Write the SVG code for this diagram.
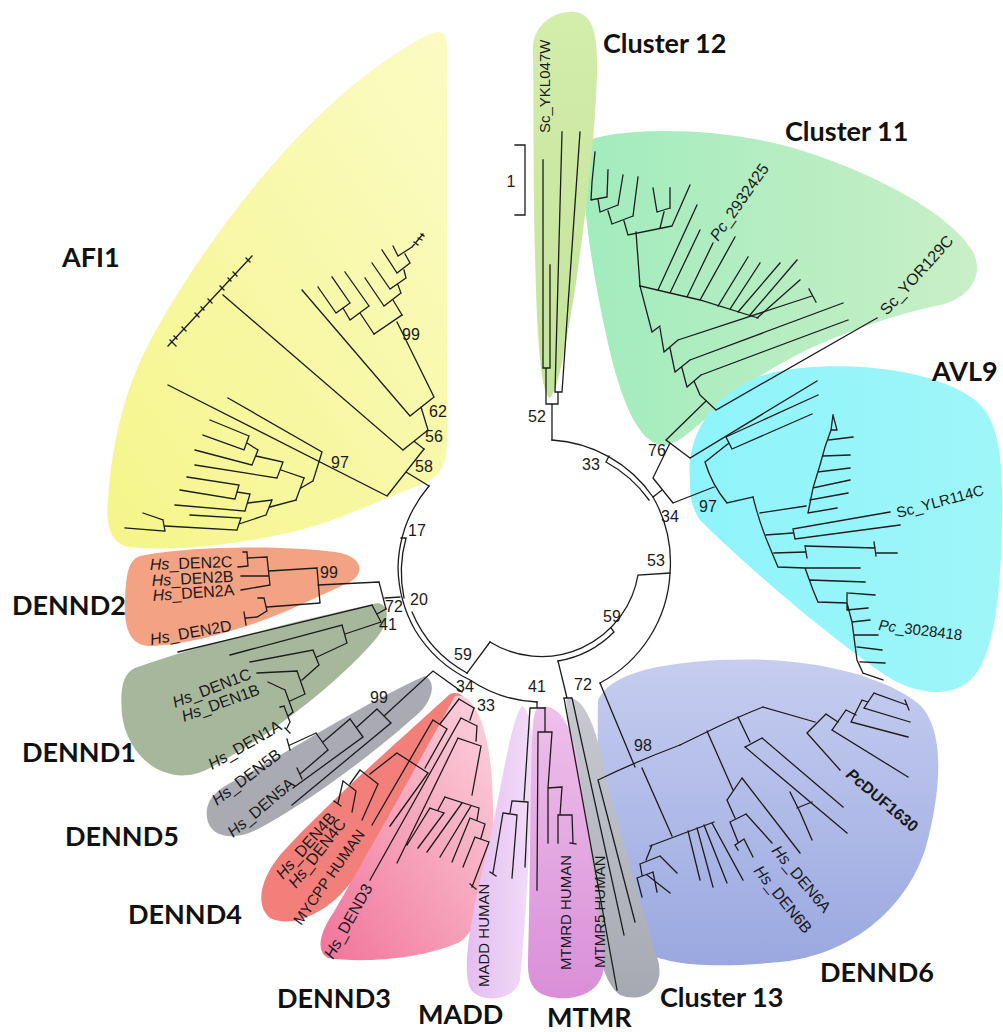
<svg xmlns="http://www.w3.org/2000/svg" width="1003" height="1032" viewBox="0 0 1003 1032">
<defs>
<linearGradient id="gAFI" x1="0" y1="1" x2="1" y2="0"><stop offset="0" stop-color="#f5f58a"/><stop offset="1" stop-color="#fbfbc4"/></linearGradient>
<linearGradient id="gC12" x1="0" y1="1" x2="0" y2="0"><stop offset="0" stop-color="#c3e39a"/><stop offset="1" stop-color="#d3edab"/></linearGradient>
<linearGradient id="gC11" x1="0" y1="0" x2="1" y2="0"><stop offset="0" stop-color="#a2ecbd"/><stop offset="1" stop-color="#c9efc6"/></linearGradient>
<linearGradient id="gAVL" x1="0" y1="0" x2="1" y2="0"><stop offset="0" stop-color="#8ef4fb"/><stop offset="1" stop-color="#9ff6f8"/></linearGradient>
<linearGradient id="gD6" x1="0" y1="0" x2="0" y2="1"><stop offset="0" stop-color="#c6cdef"/><stop offset="1" stop-color="#9aa8e0"/></linearGradient>
<linearGradient id="gMT" x1="0" y1="1" x2="0" y2="0"><stop offset="0" stop-color="#d98fd8"/><stop offset="1" stop-color="#eec0ea"/></linearGradient>
<linearGradient id="gMA" x1="0" y1="0" x2="1" y2="0"><stop offset="0" stop-color="#e4bdf1"/><stop offset="1" stop-color="#f2dcf8"/></linearGradient>
<linearGradient id="gD3" x1="0" y1="1" x2="1" y2="0"><stop offset="0" stop-color="#f17399"/><stop offset="1" stop-color="#fcd4df"/></linearGradient>
<linearGradient id="gC13" x1="0" y1="0" x2="0" y2="1"><stop offset="0" stop-color="#c8cad0"/><stop offset="1" stop-color="#a6a9b2"/></linearGradient>
</defs>
<style>
.br{fill:none;stroke:#1c1c1c;stroke-width:1.3;stroke-linecap:square}
.nl{font-family:"Liberation Sans",Arial,sans-serif;font-size:16px;fill:#1a1a1a;text-anchor:middle}
.ll{font-family:"Liberation Sans",Arial,sans-serif;font-size:16px;fill:#1a1a1a}
.cl{font-family:Lato,"Open Sans","Liberation Sans",sans-serif;font-weight:bold;font-size:27px;fill:#111}
.it{font-style:italic}
</style>
<rect width="1003" height="1032" fill="#ffffff"/>

<g id="clade-AFI1"><path d="M447,50 L447,440 C447,465 440,478 420,485 C380,500 340,520 300,530 C240,545 170,552 130,547 C108,544 106,520 108,500 C112,440 125,390 148,345 C195,255 285,135 370,72 C400,50 425,34 437,32 C446,31 447,40 447,50 Z" fill="url(#gAFI)"/><text class="cl" x="62" y="267">AFI1</text></g>
<g id="clade-DENND2"><path d="M140,556 C190,546 280,545 335,552 C362,556 366,572 350,582 L300,605 C250,628 190,645 150,646 C128,646 124,625 125,600 C126,575 128,560 140,556 Z" fill="#f3a283"/><text class="cl" x="12" y="615">DENND2</text></g>
<g id="clade-DENND1"><path d="M135,668 C200,645 300,620 378,603 C392,606 388,625 375,640 C340,680 280,730 210,768 C170,790 128,760 122,715 C120,690 122,674 135,668 Z" fill="#a7b79c"/><text class="cl" x="22" y="762">DENND1</text></g>
<g id="clade-DENND5"><path d="M425,676 C437,682 432,700 420,712 C380,748 320,795 260,828 C235,842 210,838 207,818 C205,800 215,790 240,778 C300,745 370,700 425,676 Z" fill="#a9aab2"/><text class="cl" x="65" y="846">DENND5</text></g>
<g id="clade-DENND4"><path d="M450,694 C462,690 468,700 462,712 C440,760 400,830 340,895 C320,915 290,928 270,918 C255,905 260,880 280,855 C330,800 400,740 450,694 Z" fill="#f37f7b"/><text class="cl" x="128" y="924">DENND4</text></g>
<g id="clade-DENND3"><path d="M455,696 C472,692 488,720 492,780 C496,850 490,920 460,942 C420,960 360,963 328,958 C315,950 320,932 335,910 C370,850 420,760 455,696 Z" fill="url(#gD3)"/><text class="cl" x="277" y="1008">DENND3</text></g>
<g id="clade-MADD"><path d="M522,706 C532,712 534,740 532,780 C530,850 525,930 520,980 C515,1002 478,1004 470,988 C462,970 470,920 485,860 C500,800 510,720 522,706 Z" fill="url(#gMA)"/><text class="cl" x="418" y="1024">MADD</text></g>
<g id="clade-DENND6"><path d="M598,700 C610,675 650,664 720,660 C800,656 880,672 920,705 C945,730 942,790 925,850 C905,910 850,955 780,962 C720,968 660,968 635,945 C605,910 596,800 598,700 Z" fill="url(#gD6)"/><text class="cl" x="820" y="982">DENND6</text></g>
<g id="clade-Cluster13"><path d="M566,700 C578,692 592,715 600,750 C615,820 640,900 658,960 C666,992 640,1003 620,995 C605,985 596,950 590,910 C580,840 572,760 566,700 Z" fill="url(#gC13)"/><text class="cl" x="660" y="1007">Cluster 13</text></g>
<g id="clade-MTMR"><path d="M538,708 C556,702 570,720 578,760 C588,830 600,920 604,960 C606,990 580,1000 558,998 C535,996 527,985 528,960 C530,900 530,800 532,740 C533,720 534,710 538,708 Z" fill="url(#gMT)"/><text class="cl" x="547" y="1027">MTMR</text></g>
<g id="clade-Cluster11"><path d="M590,140 C620,128 720,125 800,150 C880,175 950,215 972,250 C985,272 972,298 940,305 C880,318 800,345 740,390 C700,420 680,448 660,445 C640,440 625,410 612,360 C595,290 582,210 584,165 C585,150 586,143 590,140 Z" fill="url(#gC11)"/><text class="cl" x="785" y="141">Cluster 11</text></g>
<g id="clade-AVL9"><path d="M690,480 C685,430 720,385 775,372 C830,360 930,365 975,400 C1000,420 1003,460 1002,520 C1001,590 995,650 975,675 C955,700 915,695 885,675 C820,630 740,560 700,520 C690,505 690,492 690,480 Z" fill="url(#gAVL)"/><text class="cl" x="932" y="381">AVL9</text></g>
<g id="clade-Cluster12"><path d="M533,55 C530,25 555,10 575,12 C595,14 598,40 597,75 C595,140 585,220 575,290 C565,350 558,390 550,398 C542,395 538,350 536,290 C533,200 534,120 533,55 Z" fill="url(#gC12)"/><text class="cl" x="603" y="53">Cluster 12</text></g>

<g id="connectors" class="br">
<path d="M552,440 A132,132 0 0 1 653,497 A132,132 0 0 1 670,573 A132,132 0 0 1 600,683"/>
<path d="M606,462 A128,128 0 0 1 649,500 M606,462 L609,456"/>
<path d="M429,486 A132,132 0 0 0 398,567 A132,132 0 0 0 415,630 A130,130 0 0 0 470,680 A130,130 0 0 0 537,702"/>
<path d="M406,538 A128,128 0 0 0 404,598 M401,538 L406,538 M412,612 A125,125 0 0 0 467,673"/>
<path d="M490,642 L467,673"/>
<path d="M670,573 L638,575 A98,98 0 0 1 490,642"/>
<path d="M614,632 A103,103 0 0 1 558,661 M611,628 L614,632"/>
<path d="M515,145 L525,145 L525,215 L515,215"/>
<path d="M552,440 L552,404 M546,404 L558,404 M546,404 L546,368 M543,368 L550,368 M543,368 L543,160 M550,368 L550,265 M558,404 L558,392 M555,392 L562,392 M555,392 L562,132 M562,392 L580,132"/>
<path d="M653,497 L662,490 M653,478 L673,503 M653,478 L670,443 M666,440 L690,458 M690,458 L817,381 M666,440 L706,401 M673,503 L714,487"/>
<path d="M700,395 L716,410 M716,410 L877,318 M700,395 L694,381 M687,387 L701,375 M701,375 L848,320 M687,387 L682,368 M675,372 L690,360 M690,360 L843,303 M675,372 L670,348 M664,352 L678,340 M678,340 L812,296 M809,289 L816,302 M664,352 L660,328 M652,332 L660,326 M652,332 L640,286"/>
<path d="M640,286 L700,300 L758,318 M658,290 L697,205 M670,293 L700,230 M687,297 L713,243 M700,300 L735,237 M718,306 L748,257 M730,309 L760,263 M738,312 L780,263 M750,315 L797,260 M757,318 L800,280"/>
<path d="M640,286 L636,232 M628,235 L672,226 M672,226 L690,185 M660,228 L664,212 M657,212 L670,208 M657,212 L653,188 M670,208 L670,188 M628,235 L624,221 M612,224 L633,216 M633,216 L638,177 M612,224 L608,211 M600,212 L618,205 M618,205 L623,175 M600,212 L598,199 M591,200 L607,197 M607,197 L608,170 M591,200 L592,182 L595,152"/>
<path d="M705,462 Q712,485 727,503 M705,462 L729,443 M726,437 L732,449 M726,437 L818,395 M732,449 L812,414 M727,503 L753,497"/>
<path d="M753,497 Q760,525 770,548 L778,567 L805,568 L813,590 L818,602 L847,603 L852,622 L857,660 L863,673 M805,568 L860,568 M810,580 L865,582 M847,593 L847,610 M847,593 L875,595 M847,610 L868,608 M852,622 L870,620 M855,635 L878,635 M857,647 L882,650 M860,662 L885,663 M863,673 L883,680"/>
<path d="M760,513 L806,506 M808,513 L813,488 L820,465 L825,447 L831,430 L833,415 M808,513 L837,508 M810,500 L848,493 M813,488 L850,480 M818,472 L850,468 M823,456 L850,455 M829,440 L853,437 M831,430 L837,430 M833,415 L837,430"/>
<path d="M766,535 L793,533 M793,529 L795,539 M793,529 L890,512 M795,539 L900,525 M774,553 L805,552 M805,546 L807,558 M805,546 L875,548 M874,542 L876,556 M876,553 L897,553"/>
<path d="M600,683 L635,767 M598,780 Q635,762 680,745 M598,780 L635,922 M642,768 L672,836 M650,846 L714,822 M652,845 L646,860 M640,864 L660,856 M660,856 L677,873 M640,864 L642,875 M637,878 L653,872 M637,878 L642,897 M653,872 L657,892 M647,875 L670,893 M688,831 L700,880 M697,828 L713,887 M704,825 L727,883 M712,823 L743,880"/>
<path d="M680,745 L715,728 Q740,716 763,707 M707,731 L733,790 M727,800 L742,778 M742,778 L800,853 M727,800 L735,818 M730,822 L746,814 M746,814 L772,843 M730,822 L738,842 M735,845 L744,839 M744,839 L753,857 M735,845 L738,850 M790,792 L800,812 M797,808 L812,802 M800,812 L812,840"/>
<path d="M738,717 L750,742 M745,747 L762,738 M745,747 L847,833 M762,738 L843,807 M763,707 L815,722 M807,733 L826,714 M807,733 L840,770 M826,714 L838,722 M832,730 L846,710 M832,730 L908,777 M846,710 L856,715 M851,722 L862,700 M851,722 L908,737 M862,700 L868,702 M864,708 L874,693 M864,708 L910,722 M874,693 L907,705 M905,700 L909,710"/>
<path d="M558,661 L567,698 M564,698 L572,698 M564,698 L617,990 M572,698 L624,935"/>
<path d="M537,702 L537,708 M530,708 L545,708 M530,708 L524,800 M512,801 L528,802 M528,802 L525,867 M512,801 L510,813 M503,813 L517,815 M503,813 L493,873 M490,872 L496,876 M517,815 L512,878"/>
<path d="M545,708 L545,732 M538,732 L552,732 M538,732 L537,890 M552,732 L548,788 M548,788 L562,787 M548,788 L548,843 M562,787 L560,815 M558,815 L572,815 M558,815 L558,843 M572,815 L573,843 M570,843 L576,844"/>
<path d="M400,597 L385,598 M379,582 L386,609 M379,582 L318,585 M317,568 L320,603 M317,568 L269,571 M267,557 L270,585 M267,557 L247,558 M247,552 L248,566 M247,552 L243,552 M248,566 L238,567 M269,576 L241,576 M270,585 L241,590 M320,603 L267,607 M264,598 L267,611 M264,598 L258,598 M267,611 L257,617 L246,618 M244,612 L246,625"/>
<path d="M386,609 L377,614 M372,605 L381,622 M372,605 L178,652 M381,622 L345,634 M342,625 L347,643 M342,625 L230,655 M347,643 L317,657 M313,650 L319,665 M313,650 L250,662 M319,665 L302,680 M297,671 L305,694 M297,671 L257,673 M305,694 L290,701 M285,690 L293,712 M285,690 L268,682 M293,712 L288,716 M284,706 L290,722 M284,706 L280,707 M290,722 L287,728 M285,728 L290,733"/>
<path d="M462,692 L433,671 L384,716 M377,709 L391,723 M391,723 L292,805 M377,709 L357,727 M350,719 L363,737 M363,737 L293,788 M350,719 L323,742 M316,733 L328,750 M316,733 L290,745 M287,739 L290,750 M328,750 L300,774 M297,768 L302,779"/>
<path d="M459,699 L474,708 M459,699 L440,724 M433,720 L447,729 M433,720 L372,825 M447,729 L425,768 M397,753 L428,773 M428,773 L390,826 M397,753 L370,774 M360,770 L378,784 M378,784 L362,820 M360,770 L350,784 M343,781 L356,791 M343,781 L338,803 M334,801 L341,806 M356,791 L352,812"/>
<path d="M474,708 L470,720 M461,718 L477,726 M461,718 L370,880 M477,726 L476,741 M458,738 L481,746 M458,738 L397,863 M481,746 L472,795 M445,797 L479,808 M445,797 L438,810 M430,808 L444,813 M430,808 L407,845 M444,813 L418,848 M462,803 L427,852 M471,806 L440,857 M479,808 L477,820 M470,818 L485,824 M470,818 L452,862 M485,824 L481,838 M475,837 L489,842 M475,837 L463,867 M489,842 L472,887 M470,884 L476,889"/>
<path d="M429,486 L406,472 M387,496 L424,449 M387,496 L168,385 M313,481 L322,452 M322,452 L228,398 M313,481 L301,488 M296,500 L304,478"/>
<path d="M304,478 L281,470 M277,478 L283,462 M277,478 L195,465 M283,462 L256,456 M252,465 L258,450 M252,465 L195,450 M258,450 L247,443 M244,450 L249,436 M249,436 L210,420 M244,450 L203,435"/>
<path d="M296,500 L270,507 M266,515 L272,500 M272,500 L248,503 M245,511 L250,494 M245,511 L175,505 M250,494 L237,492 M235,499 L239,485 M239,485 L187,477 M235,499 L180,490 M266,515 L239,524 M237,530 L241,518 M241,518 L190,515 M237,530 L165,526 M163,520 L165,531 M163,520 L143,513 M165,531 L125,528"/>
<path d="M424,449 L415,442 M403,450 L428,430 M403,450 L223,295 M428,430 L421,407 M410,416 L434,397 M410,416 L302,290 M434,397 L397,322 M374,334 L402,315"/>
<path d="M374,334 L360,313 M350,320 L369,306 M369,306 L345,272 M350,320 L343,308 M336,313 L350,303 M336,313 L318,287 M350,303 L332,277"/>
<path d="M402,315 L393,300 M384,306 L401,293 M384,306 L365,278 M401,293 L398,285 M390,289 L406,278 M390,289 L372,263 M406,278 L404,270 M397,273 L410,263 M397,273 L382,250 M410,263 L405,254 M398,256 L412,247 M398,256 L393,246 M412,247 L423,234 M414,242 L418,245 M418,238 L422,240 M421,234 L424,236"/>
<path d="M168,346 L252,256 M170,340 L176,346 M182,327 L186,331 M195,313 L199,317 M208,299 L212,303 M220,286 L224,290 M233,272 L237,276 M246,258 L250,262 M174,336 L177,339 M201,307 L204,310 M228,278 L231,281"/>
</g>

<g id="node-labels">
<text class="nl" x="537" y="422">52</text>
<text class="nl" x="591" y="470">33</text>
<text class="nl" x="657" y="456">76</text>
<text class="nl" x="670" y="522">34</text>
<text class="nl" x="708" y="512">97</text>
<text class="nl" x="656" y="566">53</text>
<text class="nl" x="612" y="622">59</text>
<text class="nl" x="583" y="690">72</text>
<text class="nl" x="537" y="692">41</text>
<text class="nl" x="486" y="711">33</text>
<text class="nl" x="465" y="692">34</text>
<text class="nl" x="463" y="660">59</text>
<text class="nl" x="419" y="605">20</text>
<text class="nl" x="394" y="612">72</text>
<text class="nl" x="388" y="630">41</text>
<text class="nl" x="417" y="536">17</text>
<text class="nl" x="424" y="472">58</text>
<text class="nl" x="434" y="442">56</text>
<text class="nl" x="438" y="417">62</text>
<text class="nl" x="411" y="340">99</text>
<text class="nl" x="340" y="468">97</text>
<text class="nl" x="329" y="578">99</text>
<text class="nl" x="379" y="703">99</text>
<text class="nl" x="643" y="751">98</text>
<text class="nl" x="511" y="187">1</text>
</g>

<g id="leaf-labels" class="ll">
<text transform="translate(550,133) rotate(-90)" font-size="15">Sc_YKL047W</text>
<text transform="translate(718,242) rotate(-55)"><tspan class="it">Pc</tspan>_2932425</text>
<text transform="translate(887,316) rotate(-48)">Sc_YOR129C</text>
<text transform="translate(898,518) rotate(-15)" font-size="15">Sc_YLR114C</text>
<text transform="translate(878,630) rotate(7)" font-size="15"><tspan class="it">Pc</tspan>_3028418</text>
<text transform="translate(845,776) rotate(40)" font-weight="bold"><tspan class="it">Pc</tspan>DUF1630</text>
<text transform="translate(771,851) rotate(50)"><tspan class="it">Hs</tspan>_DEN6A</text>
<text transform="translate(753,871) rotate(51)"><tspan class="it">Hs</tspan>_DEN6B</text>
<text transform="translate(571,970) rotate(-90)" font-size="15">MTMRD HUMAN</text>
<text transform="translate(605,968) rotate(-90)" font-size="15">MTMR5 HUMAN</text>
<text transform="translate(489,987) rotate(-90)" font-size="15">MADD HUMAN</text>
<text transform="translate(333,960) rotate(-61)"><tspan class="it">Hs</tspan>_DEND3</text>
<text transform="translate(283,880) rotate(-49)"><tspan class="it">Hs</tspan>_DEN4B</text>
<text transform="translate(296,889) rotate(-52)"><tspan class="it">Hs</tspan>_DEN4C</text>
<text transform="translate(301,926) rotate(-55)" font-size="15">MYCPP HUMAN</text>
<text transform="translate(217,806) rotate(-37)"><tspan class="it">Hs</tspan>_DEN5B</text>
<text transform="translate(233,838) rotate(-40)"><tspan class="it">Hs</tspan>_DEN5A</text>
<text transform="translate(212,770) rotate(-30)"><tspan class="it">Hs</tspan>_DEN1A</text>
<text transform="translate(175,708) rotate(-21)"><tspan class="it">Hs</tspan>_DEN1C</text>
<text transform="translate(184,722) rotate(-20)"><tspan class="it">Hs</tspan>_DEN1B</text>
<text transform="translate(150,570) rotate(-2)"><tspan class="it">Hs</tspan>_DEN2C</text>
<text transform="translate(152,586) rotate(-3)"><tspan class="it">Hs</tspan>_DEN2B</text>
<text transform="translate(153,601) rotate(-4)"><tspan class="it">Hs</tspan>_DEN2A</text>
<text transform="translate(151,645) rotate(-10)"><tspan class="it">Hs</tspan>_DEN2D</text>
</g>
</svg>
